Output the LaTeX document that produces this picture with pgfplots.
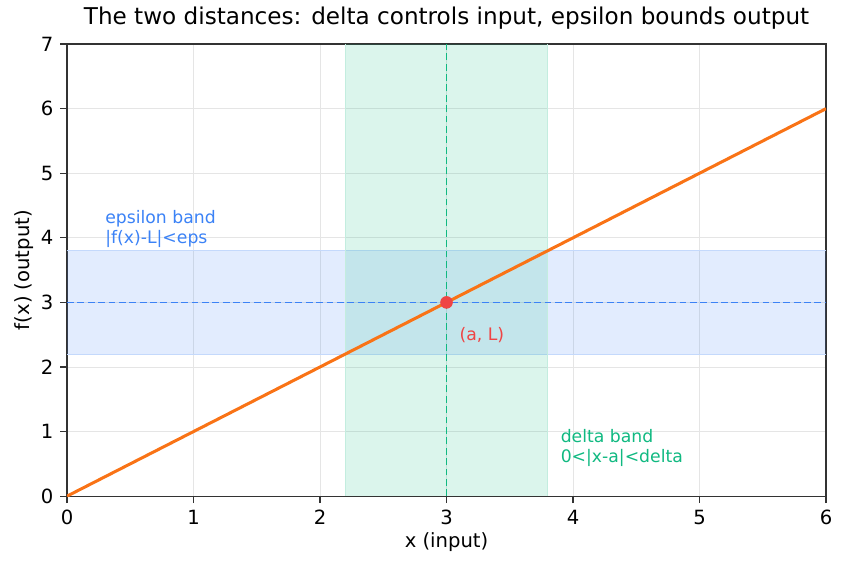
\documentclass[border=0pt]{standalone}
\usepackage{pgfplots}
\pgfplotsset{compat=1.18}
\usepackage{fontspec}
\setmainfont{DejaVu Sans}
\definecolor{corange}{HTML}{F97316}
\definecolor{cblue}{HTML}{3B82F6}
\definecolor{cgreen}{HTML}{10B981}
\definecolor{cred}{HTML}{EF4444}
\definecolor{spine}{HTML}{333333}
\begin{document}
\begin{tikzpicture}
\begin{axis}[
  name=ax,
  scale only axis,
  width=387.5pt, height=230.8pt,
  xmin=0, xmax=6, ymin=0, ymax=7,
  xtick={0,1,2,3,4,5,6}, ytick={0,1,2,3,4,5,6,7},
  /pgf/number format/assume math mode=true,
  ticklabel style={font=\fontsize{10}{12}\selectfont},
  label style={font=\fontsize{10}{12}\selectfont},
  title style={font=\fontsize{11.8}{14}\selectfont, yshift=-2pt},
  title={The two distances: delta controls input, epsilon bounds output},
  xlabel={x (input)}, ylabel={f(x) (output)},
  xlabel style={yshift=3pt}, ylabel style={yshift=-3pt},
  grid=major,
  major grid style={gray!20, line width=0.4pt},
  axis line style={spine, line width=0.6pt},
  tick style={spine, line width=0.6pt},
  tick align=outside,
  major tick length=3.5pt,
  xtick pos=bottom, ytick pos=left,
  clip=true,
]
\addplot[draw=none, fill=cblue, fill opacity=0.15] coordinates {(0,2.2) (6,2.2) (6,3.8) (0,3.8)} -- cycle;
\addplot[draw=cblue!30, line width=0.4pt, forget plot] coordinates {(0,2.2) (6,2.2)};
\addplot[draw=cblue!30, line width=0.4pt, forget plot] coordinates {(0,3.8) (6,3.8)};
\addplot[draw=none, fill=cgreen, fill opacity=0.15] coordinates {(2.2,0) (3.8,0) (3.8,7) (2.2,7)} -- cycle;
\addplot[draw=cgreen!25, line width=0.4pt, forget plot] coordinates {(2.2,0) (2.2,7)};
\addplot[draw=cgreen!25, line width=0.4pt, forget plot] coordinates {(3.8,0) (3.8,7)};
\addplot[cblue, line width=0.8pt, dash pattern=on 3.5pt off 1.8pt] coordinates {(0,3) (6,3)};
\addplot[cgreen, line width=0.8pt, dash pattern=on 3.5pt off 1.8pt] coordinates {(3,0) (3,7)};
\addplot[corange, line width=1.55pt] coordinates {(0,0) (6,6)};
\addplot[only marks, mark=*, mark size=3pt, mark options={fill=cred, draw=cred}] coordinates {(3,3)};
\node[anchor=south west, inner sep=0pt, align=left, text=cblue, font=\fontsize{8.8}{10.3}\selectfont] at (axis cs:0.3,3.84) {epsilon band\\|f(x)-L|<eps};
\node[anchor=south west, inner sep=0pt, align=left, text=cgreen, font=\fontsize{8.8}{10.3}\selectfont] at (axis cs:3.9,0.45) {delta band\\0<|x-a|<delta};
\node[anchor=west, inner sep=0pt, text=cred, font=\fontsize{8.8}{10.3}\selectfont] at (axis cs:3.1,2.49) {(a, L)};
\end{axis}
\pgfresetboundingbox
\path (ax.south west) ++(-34.2pt,-37.2pt) coordinate (bl);
\path (ax.north east) ++(10.2pt,22.5pt) coordinate (tr);
\path[use as bounding box] (bl) rectangle (tr);
\end{tikzpicture}
\end{document}
